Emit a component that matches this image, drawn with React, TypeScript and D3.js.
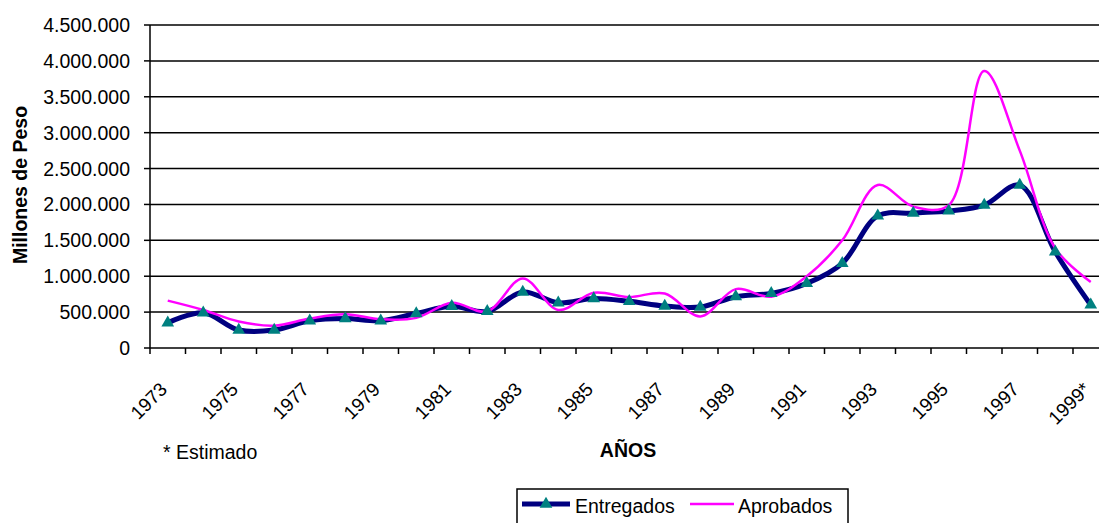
import React from "react";
import * as d3 from "d3";

const years = ["1973","1974","1975","1976","1977","1978","1979","1980","1981","1982","1983","1984","1985","1986","1987","1988","1989","1990","1991","1992","1993","1994","1995","1996","1997","1998","1999*"];
const entregados = [350000,490000,250000,250000,380000,410000,380000,480000,580000,510000,780000,630000,690000,650000,585000,570000,715000,760000,900000,1180000,1840000,1880000,1910000,1990000,2270000,1340000,600000];
const aprobados = [660000,530000,370000,310000,410000,470000,400000,420000,630000,510000,970000,530000,770000,710000,760000,440000,820000,715000,1000000,1500000,2270000,1970000,1990000,3860000,2750000,1390000,920000];
const yTicks = [0,500000,1000000,1500000,2000000,2500000,3000000,3500000,4000000,4500000];

const FONT = "'Liberation Sans', Arial, sans-serif";
const fmt = (v: number) => (v === 0 ? "0" : d3.format(",")(v).replace(/,/g, "."));

export default function App() {
  const W = 1099, H = 523;
  const left = 150, top = 25, bottom = 348;
  const band = 35.5;
  const x = d3.scaleBand<string>().domain(years).range([left, left + band * years.length]).padding(0);
  const y = d3.scaleLinear().domain([0, 4500000]).range([bottom, top]);
  const cx = (yr: string) => (x(yr) as number) + x.bandwidth() / 2;
  const line = d3.line<number>().x((_, i) => cx(years[i])).y((d) => y(d)).curve(d3.curveCatmullRom.alpha(0.5));
  const tri = d3.symbol().type(d3.symbolTriangle).size(70)() as string;
  const tickXs = years.map((yr) => x(yr) as number).concat([left + band * years.length]);

  return (
    <svg width={W} height={H} style={{ position: "absolute", left: 0, top: 0, background: "#fff" }} fontFamily={FONT}>
      {yTicks.map((t) => (
        <g key={t}>
          {t > 0 && <line x1={left} x2={W + 20} y1={y(t)} y2={y(t)} stroke="#000" strokeWidth={1.5} />}
          <line x1={left - 6} x2={left} y1={y(t)} y2={y(t)} stroke="#000" strokeWidth={1.5} />
          <text x={130} y={y(t)} textAnchor="end" dominantBaseline="central" fontSize={19.5} fill="#000">{fmt(t)}</text>
        </g>
      ))}
      <line x1={left} x2={left} y1={top} y2={bottom} stroke="#000" strokeWidth={1.5} />
      <line x1={left} x2={W + 20} y1={bottom} y2={bottom} stroke="#000" strokeWidth={1.5} />
      {tickXs.map((tx, i) => (
        <line key={i} x1={tx} x2={tx} y1={bottom} y2={bottom + 6} stroke="#000" strokeWidth={1.5} />
      ))}
      {years.map((yr, i) =>
        i % 2 === 0 ? (
          <text key={yr} transform={`translate(${cx(yr) - 4},${386}) rotate(-45)`} textAnchor="end" dominantBaseline="central" fontSize={19} fill="#000">{yr}</text>
        ) : null
      )}
      <text transform={`translate(20,185) rotate(-90)`} textAnchor="middle" dominantBaseline="central" fontSize={19.5} fontWeight="bold" fill="#000">Millones de Peso</text>
      <text x={628} y={457} textAnchor="middle" fontSize={19.5} fontWeight="bold" fill="#000">AÑOS</text>
      <text x={163} y={459} fontSize={19.5} fill="#000">* Estimado</text>

      <path d={line(entregados) as string} fill="none" stroke="#000080" strokeWidth={5} />
      <path d={line(aprobados) as string} fill="none" stroke="#FF00FF" strokeWidth={2.5} />
      {entregados.map((v, i) => (
        <path key={i} d={tri} transform={`translate(${cx(years[i])},${y(v)})`} fill="#008080" />
      ))}

      <rect x={517} y={489} width={331} height={45} fill="#fff" stroke="#000" strokeWidth={1.5} />
      <line x1={522} x2={570} y1={504} y2={504} stroke="#000080" strokeWidth={5} />
      <path d={tri} transform="translate(546,504)" fill="#008080" />
      <text x={575} y={513} fontSize={19.5} fill="#000">Entregados</text>
      <line x1={690} x2={734} y1={504} y2={504} stroke="#FF00FF" strokeWidth={2.5} />
      <text x={738} y={513} fontSize={19.5} fill="#000">Aprobados</text>
    </svg>
  );
}
